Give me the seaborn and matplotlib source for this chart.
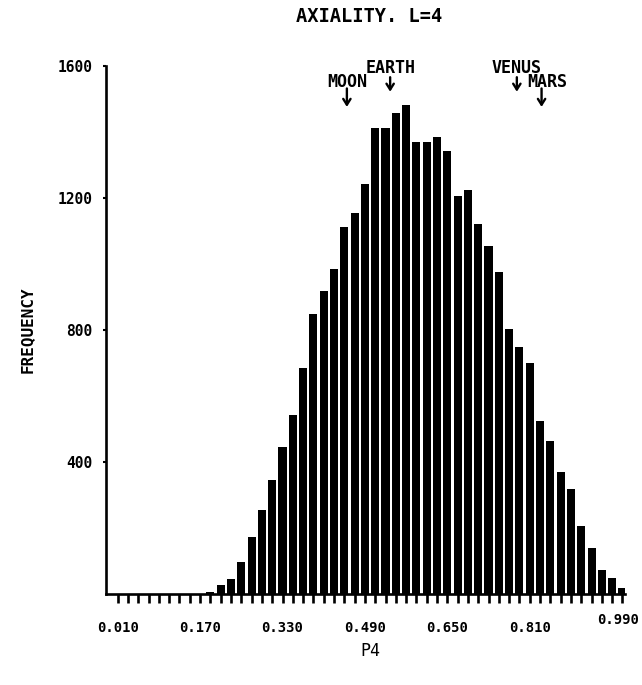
import numpy as np
import pandas as pd
import matplotlib
matplotlib.use('Agg')
import matplotlib.pyplot as plt
import seaborn as sns

# --- Data ---
# P4 bin centres (bin width 0.02) and the count in each bin
p4_centres = [0.19, 0.21, 0.23, 0.25, 0.27, 0.29, 0.31, 0.33, 0.35, 0.37,
              0.39, 0.41, 0.43, 0.45, 0.47, 0.49, 0.51, 0.53, 0.55, 0.57,
              0.59, 0.61, 0.63, 0.65, 0.67, 0.69, 0.71, 0.73, 0.75, 0.77,
              0.79, 0.81, 0.83, 0.85, 0.87, 0.89, 0.91, 0.93, 0.95, 0.97,
              0.99]
frequency = [7, 27, 44, 98, 173, 254, 346, 446, 541, 684,
             849, 919, 986, 1111, 1155, 1241, 1413, 1411, 1457, 1481,
             1371, 1371, 1384, 1342, 1205, 1224, 1121, 1055, 975, 802,
             749, 699, 524, 464, 370, 317, 205, 138, 72, 49,
             18]

# Where the bodies of the solar system fall
planets = ['MOON', 'EARTH', 'VENUS', 'MARS']
planet_p4 = [0.455, 0.539, 0.785, 0.833]

xtick_values = [0.01, 0.17, 0.33, 0.49, 0.65, 0.81, 0.99]
xtick_labels = ['0.010', '0.170', '0.330', '0.490', '0.650', '0.810', '0.990']
ytick_values = [400, 800, 1200, 1600]

df = pd.DataFrame({'p4': p4_centres, 'freq': frequency})

# --- Style ---
sns.set_theme(style='ticks', rc={
    'axes.edgecolor': 'black', 'xtick.color': 'black', 'ytick.color': 'black',
    'text.color': 'black', 'axes.labelcolor': 'black'})
plt.rcParams['font.family'] = ['DejaVu Sans Mono', 'DejaVu Sans']

W, H = 642, 685
fig = plt.figure(figsize=(W / 100, H / 100), dpi=100)
ax = fig.add_axes([106 / W, 1 - 594 / H, 519 / W, 528 / H])

sns.histplot(data=df, x='p4', weights='freq', binwidth=0.02,
             binrange=(0.18, 1.0), shrink=0.78,
             color='black', alpha=1, edgecolor='none', linewidth=0, ax=ax)

ax.set_xlim(-0.0127, 0.995)
ax.set_ylim(0, 1600)

for side in ['top', 'right']:
    ax.spines[side].set_visible(False)
for side in ['left', 'bottom']:
    ax.spines[side].set_linewidth(1.9)

# one tick per bin, labels every 8th bin; the end label is squeezed in by hand
all_ticks = np.round(np.arange(0.01, 0.9901, 0.02), 2)
ax.set_xticks(all_ticks)
lab_map = dict(zip(xtick_values[:-1], xtick_labels[:-1]))
ax.set_xticklabels([lab_map.get(float(t), '') for t in all_ticks])
ax.set_yticks(ytick_values)
ax.set_yticklabels([str(v) for v in ytick_values])

ax.tick_params(axis='x', direction='out', length=6.5, width=1.9, pad=13, labelsize=10)
ax.tick_params(axis='y', direction='out', length=2.5, width=1.5, pad=7, labelsize=10.5)
for lbl in ax.get_xticklabels() + ax.get_yticklabels():
    lbl.set_fontweight('bold')

ax.annotate(xtick_labels[-1], xy=(xtick_values[-1], 0),
            xycoords=('data', 'axes fraction'), xytext=(-3, -19),
            textcoords='offset points', ha='center', va='center',
            fontsize=10, fontweight='bold', annotation_clip=False)

ax.set_xlabel('P4', fontsize=12)
ax.xaxis.set_label_coords(0.509, -0.091)
ax.set_ylabel('FREQUENCY', fontsize=11.5, fontweight='bold')
ax.yaxis.set_label_coords(-0.137, 0.5)

ax.text(0.507, 1.094, 'AXIALITY. L=4', transform=ax.transAxes,
        ha='center', va='center', fontsize=13.5, fontweight='bold')

# planet markers: two staggered rows of labels with a down arrow under each
upper = {'EARTH', 'VENUS'}
for name, p in zip(planets, planet_p4):
    if name in upper:
        y_lab, y_tail, y_tip = 1593, 1566, 1522
    else:
        y_lab, y_tail, y_tip = 1553, 1532, 1476
    dx = 0.012 if name == 'MARS' else 0.0
    ax.text(p + dx, y_lab, name, ha='center', va='center', fontsize=12,
            fontweight='bold', clip_on=False)
    ax.annotate('', xy=(p, y_tip), xytext=(p, y_tail),
                arrowprops=dict(arrowstyle='->,head_length=0.35,head_width=0.22',
                                lw=1.7, color='black', shrinkA=0, shrinkB=0),
                annotation_clip=False)

fig.savefig('out.png', dpi=100)
